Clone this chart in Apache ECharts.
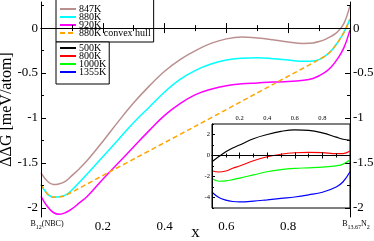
<!DOCTYPE html>
<html><head><meta charset="utf-8">
<script src="https://cdn.jsdelivr.net/npm/echarts@6/dist/echarts.min.js"></script>
<style>html,body{margin:0;padding:0;background:#fff}#c{width:374px;height:241px}</style>
</head><body><div id="c"></div>
<script>
// ---- data ----
const mainX = [0,0.02,0.04,0.06,0.08,0.1,0.125,0.15,0.2,0.25,0.3,0.35,0.4,0.45,0.5,0.55,0.6,0.65,0.7,0.75,0.8,0.85,0.88,0.9,0.92,0.94,0.96,0.98,1.0];
const y847 = [-1.61,-1.70,-1.74,-1.73,-1.70,-1.64,-1.56,-1.47,-1.26,-1.04,-0.83,-0.645,-0.48,-0.35,-0.25,-0.17,-0.12,-0.10,-0.11,-0.13,-0.155,-0.17,-0.165,-0.15,-0.125,-0.09,-0.04,0.05,0.25];
const y880 = [-1.74,-1.84,-1.88,-1.875,-1.855,-1.80,-1.71,-1.62,-1.43,-1.24,-1.05,-0.88,-0.71,-0.57,-0.47,-0.40,-0.355,-0.335,-0.33,-0.34,-0.355,-0.37,-0.365,-0.35,-0.31,-0.25,-0.16,-0.05,0.1];
const y920 = [-1.87,-1.98,-2.05,-2.07,-2.05,-2.01,-1.94,-1.87,-1.68,-1.50,-1.32,-1.14,-0.97,-0.84,-0.74,-0.68,-0.64,-0.62,-0.61,-0.60,-0.595,-0.58,-0.56,-0.53,-0.49,-0.43,-0.34,-0.22,-0.02];
const hullX = [0,0.02,0.04,0.06,0.076,0.221,0.5,0.765,0.9,0.92,0.94,0.96,0.98,1.0];
const hullY = [-1.74,-1.84,-1.88,-1.875,-1.865,-1.60,-1.09,-0.60,-0.35,-0.31,-0.25,-0.16,-0.05,0.1];

const insetX = [0,0.05,0.1,0.15,0.2,0.3,0.4,0.5,0.6,0.7,0.8,0.9,0.95,1.0];
const y500  = [-0.6,-0.1,0.35,0.72,1.0,1.6,2.0,2.3,2.45,2.4,2.15,1.75,1.55,1.45];
const y800  = [-1.45,-1.57,-1.48,-1.22,-1.0,-0.5,-0.12,0.12,0.26,0.3,0.27,0.17,0.18,0.42];
const y1000 = [-2.2,-2.45,-2.42,-2.3,-2.15,-1.85,-1.55,-1.35,-1.23,-1.17,-1.1,-0.98,-0.82,-0.4];
const y1355 = [-3.5,-4.0,-4.25,-4.38,-4.42,-4.35,-4.22,-4.08,-3.95,-3.75,-3.5,-3.0,-2.5,-1.55];

const mainYTicks = [-2,-1.5,-1,-0.5,0];
const mainYMinor = [-2,-1.75,-1.5,-1.25,-1,-0.75,-0.5,-0.25,0,0.25];
const insetYTicks = [-4,-2,0,2];
const insetYMinor = [-5,-3,-1,1,3];

// ---- chart ----
const F = 'Liberation Serif';
const pair = (xs, ys) => xs.map((x, i) => [x, ys[i]]);
const chart = echarts.init(document.getElementById('c'), null, {renderer: 'canvas'});
const line = {show: true, lineStyle: {color: '#000', width: 1}};
const tickIn = (len) => ({show: true, inside: true, length: len, lineStyle: {color: '#000', width: 1}});

function xLabel(v) {
  if (v === 0) return '{p|}{a|B}{s|12}{a|(NBC)}';
  if (Math.abs(v - 1) < 1e-9) return '{p|}{a|B}{s|13.67}{a|N}{s|2}';
  return '{n|' + (+v.toFixed(1)) + '}';
}

const legendBase = {orient: 'vertical', itemWidth: 16, itemHeight: 8, itemGap: -2,
  backgroundColor: '#fff', borderColor: '#000', borderWidth: 1, borderRadius: 0,
  itemStyle: {opacity: 0},
  textStyle: {fontFamily: F, fontSize: 10, color: '#000', lineHeight: 8, padding: [0,0,0,-2]}, z: 8};

const option = {
  animation: false,
  backgroundColor: '#fff',
  textStyle: {fontFamily: F},
  grid: [
    {left: 41, top: 2, width: 309, height: 215, show: false, containLabel: false, outerBoundsMode: 'none', z: 0},
    {left: 212, top: 124, width: 138, height: 84, show: true, containLabel: false, outerBoundsMode: 'none',
     backgroundColor: '#fff', borderColor: '#000', borderWidth: 1, z: 3}
  ],
  legend: [
    Object.assign({}, legendBase, {left: 56, top: -1, padding: [5, 3, 4, 3],
      data: ['847K', '880K', '920K', '880K convex hull']}),
    Object.assign({}, legendBase, {left: 56, top: 42, padding: [1, 3, 7, 3],
      data: ['500K', '800K', '1000K', '1355K']})
  ],
  xAxis: [
    {gridIndex: 0, type: 'value', position: 'bottom', min: 0, max: 1, interval: 0.2, z: 10,
     axisLine: line, axisTick: tickIn(5), minorTick: {show: true, splitNumber: 2, length: 3, lineStyle: {color: '#000'}},
     splitLine: {show: false}, minorSplitLine: {show: false},
     axisLabel: {show: true, margin: 3, color: '#000', fontFamily: F, fontSize: 13, formatter: xLabel, hideOverlap: false,
       rich: {n: {fontFamily: F, fontSize: 13, color: '#000'},
              p: {width: 12},
              a: {fontFamily: F, fontSize: 8, color: '#000', lineHeight: 12, verticalAlign: 'top'},
              s: {fontFamily: F, fontSize: 6, color: '#000', lineHeight: 12, verticalAlign: 'top', padding: [4,0,0,0]}}},
     name: 'x', nameLocation: 'middle', nameGap: 7, nameMoveOverlap: false,
     nameTextStyle: {fontFamily: F, fontSize: 17, color: '#000', verticalAlign: 'top'}},
    {gridIndex: 0, type: 'value', position: 'top', min: 0, max: 1, interval: 0.2, z: 10,
     axisLine: line, axisTick: tickIn(5), minorTick: {show: true, splitNumber: 2, length: 3, lineStyle: {color: '#000'}},
     splitLine: {show: false}, axisLabel: {show: false}},
    {gridIndex: 1, type: 'value', position: 'top', min: 0, max: 1, interval: 0.2, z: 6,
     axisLine: line, axisTick: tickIn(3), minorTick: {show: true, splitNumber: 2, length: 2, lineStyle: {color: '#000'}},
     splitLine: {show: false},
     axisLabel: {show: true, margin: 2, color: '#000', fontFamily: F, fontSize: 6.5, showMinLabel: false, showMaxLabel: false}},
    {gridIndex: 1, type: 'value', position: 'bottom', min: 0, max: 1, interval: 0.2, z: 6,
     axisLine: line, axisTick: tickIn(3), minorTick: {show: true, splitNumber: 2, length: 2, lineStyle: {color: '#000'}},
     splitLine: {show: false}, axisLabel: {show: false}}
  ],
  yAxis: [
    {gridIndex: 0, type: 'value', position: 'left', min: -2.1, max: 0.29, z: 10,
     axisLine: line, axisTick: Object.assign(tickIn(5), {customValues: mainYTicks}), splitLine: {show: false},
     axisLabel: {show: true, customValues: mainYTicks, margin: 3, color: '#000', fontFamily: F, fontSize: 13},
     name: 'ΔΔG [meV/atom]', nameLocation: 'middle', nameGap: 26, nameMoveOverlap: false,
     nameTextStyle: {fontFamily: F, fontSize: 16, color: '#000'}},
    {gridIndex: 0, type: 'value', position: 'left', min: -2.1, max: 0.29, z: 10,
     axisLine: {show: false}, axisTick: Object.assign(tickIn(3), {customValues: mainYMinor}), splitLine: {show: false},
     axisLabel: {show: false}},
    {gridIndex: 0, type: 'value', position: 'right', min: -2.1, max: 0.29, z: 10,
     axisLine: line, axisTick: Object.assign(tickIn(5), {customValues: mainYTicks}), splitLine: {show: false},
     axisLabel: {show: true, customValues: mainYTicks, margin: 3, color: '#000', fontFamily: F, fontSize: 13}},
    {gridIndex: 0, type: 'value', position: 'right', min: -2.1, max: 0.29, z: 10,
     axisLine: {show: false}, axisTick: Object.assign(tickIn(3), {customValues: mainYMinor}), splitLine: {show: false},
     axisLabel: {show: false}},
    {gridIndex: 1, type: 'value', position: 'left', min: -5, max: 3, z: 6,
     axisLine: line, axisTick: Object.assign(tickIn(3), {customValues: insetYTicks}), splitLine: {show: false},
     axisLabel: {show: true, customValues: insetYTicks, margin: 2, color: '#000', fontFamily: F, fontSize: 6.5}},
    {gridIndex: 1, type: 'value', position: 'left', min: -5, max: 3, z: 6,
     axisLine: {show: false}, axisTick: Object.assign(tickIn(2), {customValues: insetYMinor}), splitLine: {show: false},
     axisLabel: {show: false}}
  ],
  series: [
    {name: '847K', type: 'line', xAxisIndex: 0, yAxisIndex: 0, data: pair(mainX, y847), smooth: 0.4, symbol: 'none',
     lineStyle: {color: '#bc8f8f', width: 1.5}, itemStyle: {color: '#bc8f8f'}, z: 2},
    {name: '880K', type: 'line', xAxisIndex: 0, yAxisIndex: 0, data: pair(mainX, y880), smooth: 0.4, symbol: 'none',
     lineStyle: {color: '#00ffff', width: 1.5}, itemStyle: {color: '#00ffff'}, z: 2},
    {name: '920K', type: 'line', xAxisIndex: 0, yAxisIndex: 0, data: pair(mainX, y920), smooth: 0.4, symbol: 'none',
     lineStyle: {color: '#ff00ff', width: 1.5}, itemStyle: {color: '#ff00ff'}, z: 2},
    {name: '880K convex hull', type: 'line', xAxisIndex: 0, yAxisIndex: 0, data: pair(hullX, hullY), smooth: 0.3, symbol: 'none',
     lineStyle: {color: '#ffa500', width: 1.5, type: [5, 3]}, itemStyle: {color: '#ffa500'}, z: 3},
    {name: '500K', type: 'line', xAxisIndex: 2, yAxisIndex: 4, data: pair(insetX, y500), smooth: 0.4, symbol: 'none',
     lineStyle: {color: '#000000', width: 1.2}, itemStyle: {color: '#000000'}, z: 5},
    {name: '800K', type: 'line', xAxisIndex: 2, yAxisIndex: 4, data: pair(insetX, y800), smooth: 0.4, symbol: 'none',
     lineStyle: {color: '#ff0000', width: 1.2}, itemStyle: {color: '#ff0000'}, z: 5},
    {name: '1000K', type: 'line', xAxisIndex: 2, yAxisIndex: 4, data: pair(insetX, y1000), smooth: 0.4, symbol: 'none',
     lineStyle: {color: '#00ff00', width: 1.2}, itemStyle: {color: '#00ff00'}, z: 5},
    {name: '1355K', type: 'line', xAxisIndex: 2, yAxisIndex: 4, data: pair(insetX, y1355), smooth: 0.4, symbol: 'none',
     lineStyle: {color: '#0000ff', width: 1.2}, itemStyle: {color: '#0000ff'}, z: 5}
  ]
};
chart.setOption(option);
</script></body></html>
